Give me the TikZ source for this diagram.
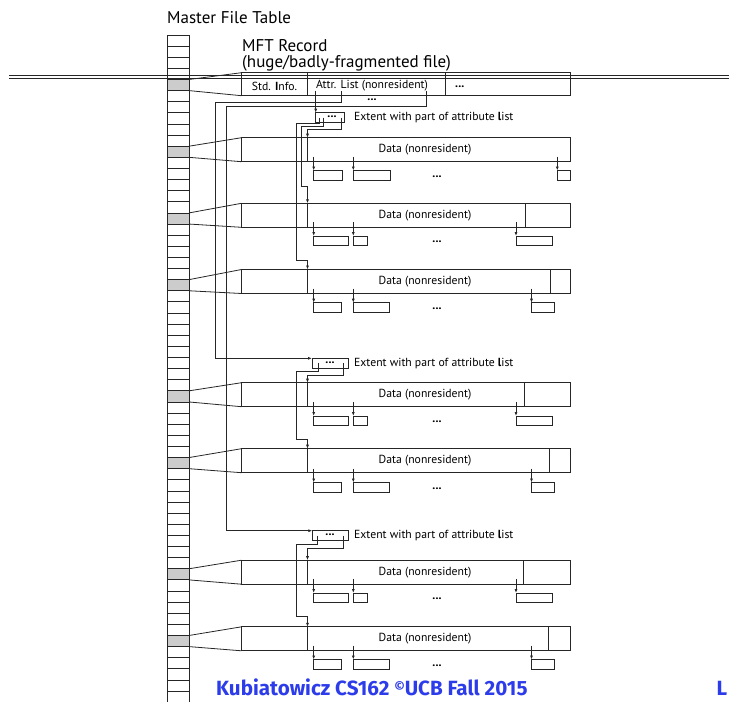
\documentclass[tikz,border=0pt]{standalone}
\usepackage{fontspec}
\setmainfont{PT Sans}
\newfontfamily\footfont{Fira Sans}
\usetikzlibrary{arrows.meta}
\definecolor{slideblue}{RGB}{45,60,235}

% One data record: name, top y, MFT cell index, x of closing divider (0 = none)
\newcommand{\DataRecord}[4]{%
  \node[rec, minimum width=329.2pt] (#1) at (241.5,#2) {};
  \coordinate (#1k) at (307.5,#2);
  \draw[ln] (#1k) -- ++(0,24);
  \ifdim#4pt>0pt \draw[ln] (#4,#2) -- ++(0,24);\fi
  \node[lab] (#1t) at (425,#2+12) {Data (nonresident)};
  \draw[ln] (m#3.north east) -- (#1.north west);
  \draw[ln] (m#3.south east) -- (#1.south west);
}
% Three data runs below a record: name, top y, then x and width of each run
\newcommand{\Runs}[8]{%
  \node[run, minimum width=#4pt] (#1a) at (#3,#2) {};
  \node[run, minimum width=#6pt] (#1b) at (#5,#2) {};
  \node[run, minimum width=#8pt] (#1c) at (#7,#2) {};
  \foreach \r in {a,b,c}
    \draw[link,tip] ([yshift=14pt]#1\r.north west) -- (#1\r.north west);
  \node[dots] (#1d) at (437,#2+6) {...};
}

\begin{document}
\begin{tikzpicture}[x=1pt,y=-1pt,
  ln/.style={draw=black!85, line width=0.8pt},
  rec/.style={ln, inner sep=0pt, outer sep=0pt, anchor=north west, minimum height=24pt},
  run/.style={ln, inner sep=0pt, outer sep=0pt, anchor=north west, minimum height=9.5pt},
  ext/.style={ln, inner sep=0pt, outer sep=0pt, anchor=north west, minimum height=10pt},
  cell/.style={ln, inner sep=0pt, outer sep=0pt, minimum width=21.5pt, minimum height=11.12pt},
  link/.style={draw=black!85, line width=0.75pt},
  tip/.style={-{Latex[length=4pt,width=3pt]}},
  lab/.style={font=\fontsize{11.7}{13}\selectfont, inner sep=0pt},
  dots/.style={font=\fontsize{12}{13}\selectfont\bfseries, inner sep=0pt},
  big/.style={font=\fontsize{17}{17}\selectfont, inner sep=0pt, anchor=base west},
  foot/.style={font=\footfont\bfseries\fontsize{20.6}{20.6}\selectfont, text=slideblue, inner sep=0pt, anchor=base west},
]
\useasboundingbox (0,0) rectangle (729,702);
\clip (0,0) rectangle (729,702);

% Master File Table column
\foreach \k in {0,...,60}
  \node[cell] (m\k) at (178.25,{35+11.12*\k+5.56}) {};
\foreach \k in {4,10,16,22,32,38,48,54}
  \node[cell, fill=black!20] (g\k) at (m\k) {};

\node[big] (mftlabel) at (167,23) {Master File Table};
\node[big] (rectitle) at (242,51) {MFT Record};
\node[big] (recsub) at (242,67) {(huge/badly-fragmented file)};

% MFT record
\node[rec, minimum width=329.2pt, minimum height=23pt] (mft) at (241.5,72.7) {};
\draw[ln] (307.5,72.7) -- (307.5,95.7);
\draw[ln] (445.5,72.7) -- (445.5,95.7);
\draw[ln] (m4.north east) -- (mft.north west);
\draw[ln] (m4.south east) -- (mft.south west);
\node[lab] (std) at (274.5,86) {Std. \textbf{I}nfo.};
\node[lab] (attr) at (372,86) {Attr. List (nonresident)};
\node[dots, anchor=west] (recmore) at (455,87) {...};
\node[dots] (attrmore) at (372,100) {...};

% Data records and their runs
\DataRecord{d1}{137.7}{10}{0}
\DataRecord{d2}{203.3}{16}{525.7}
\DataRecord{d3}{269.5}{22}{550}
\DataRecord{d4}{382.7}{32}{524.3}
\DataRecord{d5}{448.7}{38}{549.3}
\DataRecord{d6}{560.2}{48}{523.3}
\DataRecord{d7}{626.8}{54}{548.3}

\Runs{d1}{170.5}{313.7}{29}{353.3}{36.7}{557.3}{13.4}
\Runs{d2}{236}{313.7}{34.6}{353.3}{14.2}{516}{36.7}
\Runs{d3}{302.7}{313.7}{28}{353.3}{36.4}{531.5}{22.8}
\Runs{d4}{416}{313.7}{34.6}{353.3}{14.2}{516}{36.7}
\Runs{d5}{482.5}{313.7}{28}{353.3}{36.4}{531.5}{22.8}
\Runs{d6}{593}{313.7}{34.6}{353.3}{14.2}{516}{36.7}
\Runs{d7}{659.5}{313.7}{28}{353.3}{36.4}{531.5}{22.8}

% Extents holding parts of the attribute list
\node[ext, minimum width=28.6pt, minimum height=9.6pt] (e1) at (315.7,112.7) {};
\node[ext, minimum width=36.3pt] (e2) at (312,358.3) {};
\node[ext, minimum width=36pt] (e3) at (312.3,530.7) {};
\node[dots] (e1d) at (332,117) {...};
\node[dots] (e2d) at (330,362.5) {...};
\node[dots] (e3d) at (330,535) {...};
\node[lab, anchor=west] (e1l) at (354,117.5) {Extent with part of attribute \textbf{l}ist};
\node[lab, anchor=west] (e2l) at (354,363.5) {Extent with part of attribute \textbf{l}ist};
\node[lab, anchor=west] (e3l) at (354,536) {Extent with part of attribute \textbf{l}ist};

% Attribute list pointers
\draw[link,tip] (315.7,91) -- (e1.north west);
\draw[link,tip] (341.7,91) |- (215,102) |- (e2.north west);
\draw[link,tip] (426.7,91) |- (226.7,106.7) |- (e3.north west);

% Pointers from the extents to the data records
\draw[link,tip] (319,117.5) |- (296.7,123.3) |- (307.5,260) -- (d3k);
\draw[link,tip] (323.3,117.5) |- (301,126.5) |- (307.5,186.7) -- (d2k);
\draw[link,tip] (341.7,117.5) |- (307.5,129.5) -- (d1k);

\draw[link,tip] (318.3,363) |- (296.7,371.7) |- (307.5,439.3) -- (d5k);
\draw[link,tip] (343.3,363) |- (307.5,375) -- (d4k);

\draw[link,tip] (317.7,535.5) |- (296.7,544.5) |- (307.5,616.7) -- (d7k);
\draw[link,tip] (343.3,535.5) |- (307.5,548.5) -- (d6k);

% Double rule across the top
\draw[ln] (9,75.5) -- (729,75.5);
\draw[ln] (9,78) -- (729,78);

% Footer
\node[foot] (credit) at (216,695) {Kubiatowicz CS162 \raisebox{3.5pt}{\fontsize{13}{13}\selectfont ©}UCB Fall 2015};
\node[foot] (lec) at (716.5,695) {L};
\end{tikzpicture}
\end{document}
